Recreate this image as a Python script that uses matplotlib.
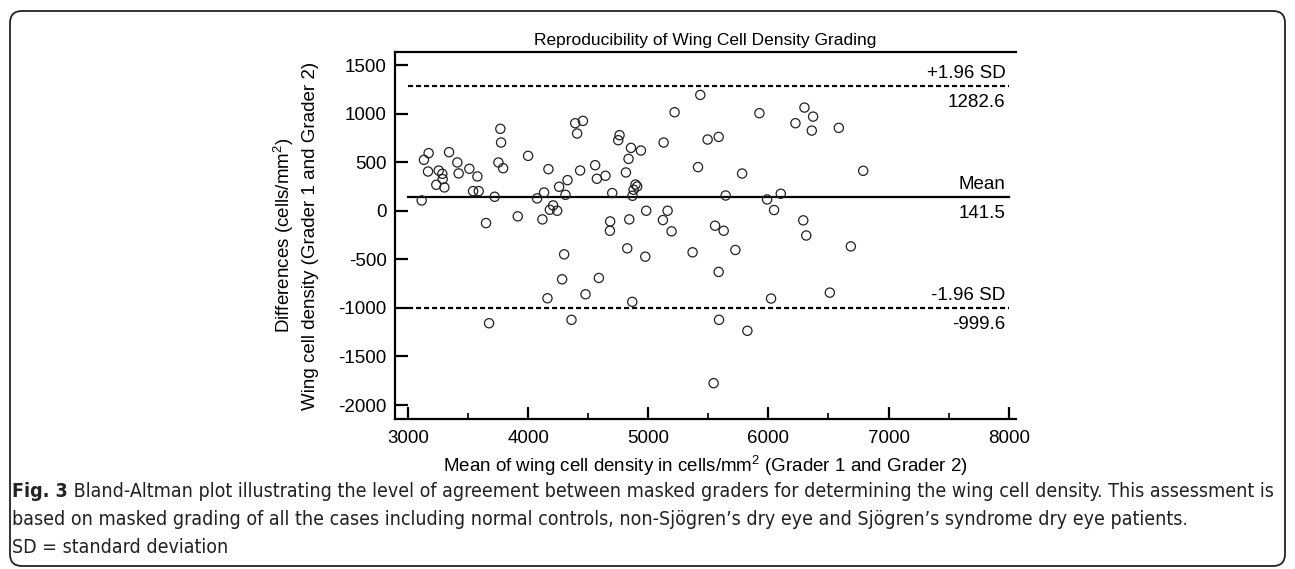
import numpy as np
from matplotlib import pyplot as plt
from matplotlib.patches import FancyBboxPatch

# mean of the two graders (x) and their difference (y)
means = [3114, 3133, 3172, 3167, 3256, 3286, 3289, 3236, 3303, 3342, 3411, 3422,
         3511, 3578, 3542, 3589, 3650, 3722, 3769, 3775, 3753, 3792, 3914, 4000,
         4075, 4133, 4169, 4119, 4181, 4208, 4242, 4258, 4311, 4328, 4392, 4456,
         4408, 4433, 4558, 4572, 4644, 4700, 4683, 4681, 4761, 4750, 4856, 4939,
         4836, 4814, 4894, 4908, 4878, 4869, 4842, 4983, 5122, 5161, 5194, 5128,
         5219, 5433, 5494, 5586, 5414, 5644, 5556, 5628, 5781, 5925, 5989, 6047,
         6103, 6225, 6300, 6372, 6361, 6586, 6789, 6290, 6315, 4300, 4283, 4161,
         4478, 4361, 3675, 4589, 4825, 4975, 5369, 5725, 5586, 4867, 6022, 5589,
         5825, 5544, 6686, 6511]
diffs = [106, 524, 593, 404, 414, 380, 326, 267, 240, 603, 497, 384,
         432, 353, 202, 202, -127, 144, 843, 702, 497, 438, -58, 565,
         127, 188, 428, -89, 10, 55, 0, 247, 164, 315, 901, 925,
         795, 414, 469, 329, 360, 182, -110, -206, 778, 726, 647, 620,
         534, 394, 270, 250, 216, 154, -89, 0, -96, 0, -212, 702,
         1014, 1192, 733, 760, 449, 157, -154, -206, 383, 1004, 116, 7,
         175, 901, 1062, 969, 825, 853, 411, -99, -255, -449, -706, -901,
         -860, -1123, -1158, -692, -387, -473, -428, -404, -630, -938, -904, -1123,
         -1236, -1775, -367, -843]

mean_diff = 141.5
upper_loa = 1282.6
lower_loa = -999.6

plt.rcParams['font.family'] = ['Liberation Sans', 'DejaVu Sans']
plt.rcParams['mathtext.fontset'] = 'custom'
plt.rcParams['mathtext.rm'] = 'Liberation Sans'
plt.rcParams['mathtext.it'] = 'Liberation Sans:italic'
plt.rcParams['axes.unicode_minus'] = False
plt.rcParams['xtick.direction'] = 'in'
plt.rcParams['ytick.direction'] = 'in'

fig = plt.figure(figsize=(12.95, 5.69), dpi=100)

# rounded frame around the whole figure
frame = FancyBboxPatch((0.10, 0.03), 12.75, 5.55,
                       boxstyle="round,pad=0,rounding_size=0.12",
                       transform=fig.dpi_scale_trans, facecolor='none',
                       edgecolor='#222222', linewidth=1.3)
fig.patches.append(frame)

ax = fig.add_axes([0.305, 0.2636, 0.4795, 0.645])

ax.scatter(means, diffs, s=44, facecolors='none', edgecolors='#222222',
           linewidths=0.9, zorder=3)

ax.plot([3000, 8000], [mean_diff, mean_diff], color='black', lw=1.6, zorder=2)
ax.plot([3000, 8000], [upper_loa, upper_loa], color='black', lw=1.6,
        linestyle=(0, (2.3, 1.3)), zorder=2)
ax.plot([3000, 8000], [lower_loa, lower_loa], color='black', lw=1.6,
        linestyle=(0, (2.3, 1.3)), zorder=2)

fs = 13.5
for yv, top, bottom in [(upper_loa, "+1.96 SD", "1282.6"),
                        (mean_diff, "Mean", "141.5"),
                        (lower_loa, "-1.96 SD", "-999.6")]:
    ax.annotate(top, (7975, yv), xytext=(0, 3), textcoords='offset points',
                ha='right', va='bottom', fontsize=fs)
    ax.annotate(bottom, (7975, yv), xytext=(0, -6), textcoords='offset points',
                ha='right', va='top', fontsize=fs)

ax.set_xlim(2892, 8060)
ax.set_ylim(-2144, 1634)
ax.set_xticks(np.arange(3000, 8001, 1000))
ax.set_xticks(np.arange(3500, 8000, 1000), minor=True)
ax.set_yticks(np.arange(-2000, 1501, 500))

ax.spines['right'].set_visible(False)
for s in ['left', 'bottom', 'top']:
    ax.spines[s].set_linewidth(1.6)

ax.tick_params(axis='both', which='major', direction='in', length=9,
               width=1.6, labelsize=fs, pad=6)
ax.tick_params(axis='x', which='minor', direction='in', length=4.5, width=1.2)
ax.tick_params(axis='x', which='major', pad=8)

ax.set_title("Reproducibility of Wing Cell Density Grading", fontsize=12.5,
             pad=5)
ax.set_xlabel("Mean of wing cell density in cells/mm$^2$ (Grader 1 and Grader 2)",
              fontsize=fs, labelpad=5)
ax.set_ylabel("Differences (cells/mm$^2$)\nWing cell density (Grader 1 and Grader 2)",
              fontsize=fs, labelpad=14, linespacing=1.45)

# caption
cap_fs = 14
cap = dict(fontsize=cap_fs, family='DejaVu Sans', stretch='condensed',
           color='#222222')
t = fig.text(12 / 1295, 1 - 497 / 569, "Fig. 3", fontweight='bold',
             va='baseline', **cap)
ax.annotate(" Bland-Altman plot illustrating the level of agreement between masked "
            "graders for determining the wing cell density. This assessment is",
            xy=(1, 0), xycoords=t, va='bottom', annotation_clip=False, **cap)
fig.text(12 / 1295, 1 - 525 / 569,
         "based on masked grading of all the cases including normal controls, "
         "non-Sjögren’s dry eye and Sjögren’s syndrome dry eye patients.",
         va='baseline', **cap)
fig.text(12 / 1295, 1 - 553 / 569, "SD = standard deviation",
         va='baseline', **cap)

fig.savefig("out.png", dpi=100)
